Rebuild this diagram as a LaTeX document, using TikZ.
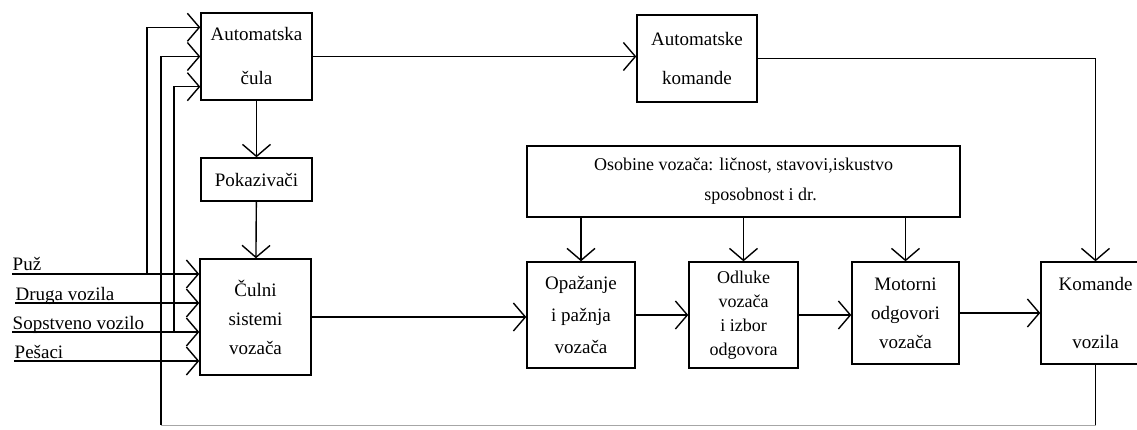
\documentclass[tikz,border=0pt]{standalone}
\usepackage{fontspec}
\setmainfont{Liberation Serif}
\usetikzlibrary{positioning,arrows.meta}

\begin{document}
\begin{tikzpicture}[
  x=1pt, y=-1pt,
  font=\fontsize{19}{29}\selectfont,
  line width=1.4pt,
  block/.style={draw,align=center,inner sep=0pt},
  lbl/.style={anchor=base west,inner sep=0pt},
  arr/.style={-{Straight Barb[length=12pt,width=28pt]}},
  faint/.style={draw=black!35,line width=0.8pt}
  ]
  \useasboundingbox (0,0) rectangle (1137,430);

  \node[block,minimum width=111pt,minimum height=87pt] (auto) at (256.5,56.5) {Automatska\\[15pt]čula};
  \node[block,minimum width=111pt,minimum height=43pt] (pok) at (256.5,179.5) {Pokazivači};
  \node[block,minimum width=111pt,minimum height=116pt] (culni) at (255.5,317) {Čulni\\sistemi\\vozača};
  \node[block,minimum width=120pt,minimum height=87pt] (autokom) at (697,58.5) {Automatske\\[10pt]komande};
  \node[block,font=\fontsize{18}{30}\selectfont,minimum width=433pt,minimum height=71pt] (osob) at (743.5,181.5)
    {Osobine vozača: ličnost, stavovi,iskustvo\\\hspace*{34pt}sposobnost i dr.};

  % row of driver blocks
  \node[block,font=\fontsize{19}{32}\selectfont,minimum width=108pt,minimum height=106pt] (opaz) at (581,315) {Opažanje\\i pažnja\\vozača};
  \node[block,font=\fontsize{18}{24}\selectfont,minimum width=109pt,minimum height=106pt] (odl) at (743.5,315) {Odluke\\vozača\\i izbor\\odgovora};
  \node[block,minimum width=107pt,minimum height=102pt] (motor) at (905.5,313) {Motorni\\odgovori\\vozača};
  \node[block,minimum width=109pt,minimum height=102pt] (kom) at (1095.5,313) {Komande\\[29pt]vozila};

  % inputs
  \node[lbl] (puz) at (12,271) {Puž};
  \node[lbl] (druga) at (15,300) {Druga vozila};
  \node[lbl] (sops) at (12,329) {Sopstveno vozilo};
  \node[lbl] (pesaci) at (14,358) {Pešaci};

  \coordinate (jp) at (147,274);
  \coordinate (js) at (174,332);
  \coordinate (fb) at (161,425);

  \draw[arr] (auto) -- (pok);
  \draw[arr] (pok) -- (culni);
  \draw[arr] (auto.east) -- (auto.east -| autokom.west);
  \draw[arr] (autokom.east) -| (kom.north);
  \foreach \b in {opaz,odl,motor}
    \draw[arr] (osob.south -| \b.north) -- (\b.north);
  \draw[arr] (culni.east) -- (culni.east -| opaz.west);
  \draw[arr] (opaz) -- (odl);
  \draw[arr] (odl.east) -- (odl.east -| motor.west);
  \draw[arr] (motor) -- (kom);

  \foreach \l in {puz,druga,sops,pesaci}
    \draw[arr] ([yshift=-3pt]\l.base west) -- ([yshift=-3pt]\l.base west -| culni.west);

  % feedback to automatska cula
  \draw[arr] (jp) |- ([yshift=-15pt]auto.north west);
  \draw[arr] (js) |- ([yshift=14pt]auto.south west);
  \draw (kom.south) -- (kom.south |- fb);
  \draw[faint] (kom.south |- fb) -- (fb);
  \draw[arr] (fb) |- (auto.west);
\end{tikzpicture}
\end{document}
